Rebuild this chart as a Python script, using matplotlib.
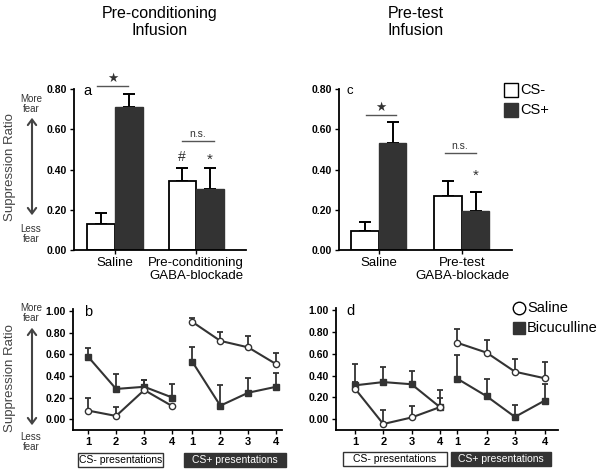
import matplotlib
matplotlib.use("Agg")
import matplotlib.pyplot as plt
from matplotlib.patches import Rectangle, FancyArrowPatch
from matplotlib.lines import Line2D
import numpy as np

plt.rcParams['font.family'] = ['Liberation Sans', 'DejaVu Sans']

# bar panels (a: pre-conditioning, c: pre-test)
groups_a = ['Saline', 'Pre-conditioning\nGABA-blockade']
groups_c = ['Saline', 'Pre-test\nGABA-blockade']
a_csminus = [0.13, 0.345]
a_csminus_err = [0.055, 0.06]
a_csplus = [0.71, 0.305]
a_csplus_err = [0.065, 0.10]
c_csminus = [0.095, 0.27]
c_csminus_err = [0.045, 0.075]
c_csplus = [0.53, 0.195]
c_csplus_err = [0.105, 0.095]

# line panels (b, d): 4 CS- presentations then 4 CS+ presentations
trial_labels = ['1', '2', '3', '4', '1', '2', '3', '4']
b_saline = [0.08, 0.03, 0.27, 0.12, 0.90, 0.725, 0.665, 0.51]
b_saline_err = [0.12, 0.08, 0.09, 0.0, 0.04, 0.085, 0.105, 0.10]
b_bic = [0.58, 0.28, 0.30, 0.20, 0.53, 0.125, 0.245, 0.30]
b_bic_err = [0.08, 0.14, 0.06, 0.13, 0.135, 0.19, 0.135, 0.13]
d_saline = [0.28, -0.045, 0.015, 0.11, 0.70, 0.61, 0.435, 0.375]
d_saline_err = [0.06, 0.13, 0.105, 0.08, 0.13, 0.115, 0.12, 0.15]
d_bic = [0.31, 0.34, 0.32, 0.11, 0.37, 0.21, 0.02, 0.17]
d_bic_err = [0.20, 0.135, 0.125, 0.155, 0.215, 0.16, 0.105, 0.15]

W, H = 602, 475
fig = plt.figure(figsize=(W / 100, H / 100), dpi=100)

DARK = '#333333'


def px_axes(l, t, r, b):
    return fig.add_axes([l / W, 1 - b / H, (r - l) / W, (b - t) / H])


def style(ax, ylim, yticks):
    ax.set_ylim(*ylim)
    ax.set_yticks(yticks)
    ax.set_yticklabels(['%.2f' % v for v in yticks], fontsize=7.5, fontweight='bold')
    for s in ['top', 'right']:
        ax.spines[s].set_visible(False)
    ax.spines['left'].set_linewidth(1.3)
    ax.spines['bottom'].set_linewidth(1.3)
    ax.tick_params(direction='out', length=3, width=1, pad=2)
    ax.patch.set_alpha(0)


def bar_panel(ax, xs, lo, lo_err, hi, hi_err, labels, xlim):
    xs = np.array(xs)
    ax.bar(xs - 0.5, lo, width=1, color='white', edgecolor='black', linewidth=1.3, zorder=2)
    ax.bar(xs + 0.5, hi, width=1, color=DARK, edgecolor=DARK, linewidth=1.0, zorder=2)
    ax.errorbar(xs - 0.5, lo, yerr=[np.zeros(2), lo_err], fmt='none', ecolor='black',
                elinewidth=1.4, capsize=4, capthick=1.4, zorder=1)
    ax.errorbar(xs + 0.5, hi, yerr=[np.zeros(2), hi_err], fmt='none', ecolor='black',
                elinewidth=1.4, capsize=4, capthick=1.4, zorder=1)
    ax.set_xlim(*xlim)
    ax.set_xticks(xs)
    ax.set_xticklabels(labels, fontsize=9.5, linespacing=1.1)
    ax.tick_params(axis='x', length=0, pad=6)
    style(ax, (0, 0.8), [0, 0.2, 0.4, 0.6, 0.8])


# panel a
ax_a = px_axes(74, 89, 246, 250)
bar_panel(ax_a, [0, 2.95], a_csminus, a_csminus_err, a_csplus, a_csplus_err, groups_a, (-1.49, 4.76))
ax_a.plot([-0.65, 0.47], [0.813, 0.813], color='#555555', lw=1, clip_on=False)
ax_a.text(-0.07, 0.85, '★', ha='center', va='center', fontsize=9, color='#333333')
ax_a.plot([2.44, 3.6], [0.54, 0.54], color='#555555', lw=1)
ax_a.text(3.02, 0.575, 'n.s.', ha='center', va='center', fontsize=7.5, color='#333333')
ax_a.text(2.42, 0.46, '#', ha='center', va='center', fontsize=10, color='#333333')
ax_a.text(3.45, 0.45, '*', ha='center', va='center', fontsize=11, color='#333333')
ax_a.text(-1.0, 0.79, 'a', ha='center', va='center', fontsize=10.5)

# panel c
ax_c = px_axes(339, 89, 512, 250)
bar_panel(ax_c, [0, 3.02], c_csminus, c_csminus_err, c_csplus, c_csplus_err, groups_c, (-1.45, 4.84))
ax_c.plot([-0.47, 0.62], [0.67, 0.67], color='#555555', lw=1)
ax_c.text(0.07, 0.705, '★', ha='center', va='center', fontsize=9, color='#333333')
ax_c.plot([2.4, 3.53], [0.48, 0.48], color='#555555', lw=1)
ax_c.text(2.95, 0.515, 'n.s.', ha='center', va='center', fontsize=7.5, color='#333333')
ax_c.text(3.53, 0.37, '*', ha='center', va='center', fontsize=11, color='#333333')
ax_c.text(-1.05, 0.79, 'c', ha='center', va='center', fontsize=9.5)


def line_panel(ax, xs, sal, sal_err, bic, bic_err, xlim):
    xs = np.array(xs)
    for seg in (slice(0, 4), slice(4, 8)):
        x = xs[seg]
        ax.errorbar(x, np.array(bic)[seg], yerr=[np.zeros(4), np.array(bic_err)[seg]], fmt='none',
                    ecolor=DARK, elinewidth=1.3, capsize=2.5, capthick=1.3, zorder=1)
        ax.errorbar(x, np.array(sal)[seg], yerr=[np.zeros(4), np.array(sal_err)[seg]], fmt='none',
                    ecolor=DARK, elinewidth=1.3, capsize=2.5, capthick=1.3, zorder=1)
        ax.plot(x, np.array(bic)[seg], color=DARK, lw=1.5, marker='s', ms=4.5,
                mfc=DARK, mec=DARK, zorder=3)
        ax.plot(x, np.array(sal)[seg], color=DARK, lw=1.5, marker='o', ms=4.5,
                mfc='white', mec=DARK, mew=1.0, zorder=3)
    ax.set_xlim(*xlim)
    ax.set_xticks(xs)
    ax.set_xticklabels(trial_labels, fontsize=8, fontweight='bold')
    style(ax, (-0.1, 1.02), [0, 0.2, 0.4, 0.6, 0.8, 1.0])


# panel b
ax_b = px_axes(73, 309, 282, 430)
line_panel(ax_b, [1, 2, 3, 4, 4.71, 5.7, 6.69, 7.68], b_saline, b_saline_err, b_bic, b_bic_err, (0.47, 7.89))
ax_b.text(1.0, 0.99, 'b', ha='center', va='center', fontsize=10.5)

# panel d
ax_d = px_axes(336, 308, 558, 430)
line_panel(ax_d, [1, 2, 3, 4, 4.62, 5.65, 6.65, 7.7], d_saline, d_saline_err, d_bic, d_bic_err, (0.33, 8.17))
ax_d.text(0.85, 0.99, 'd', ha='center', va='center', fontsize=10.5)

# titles
fig.text(160 / W, 1 - 22 / H, 'Pre-conditioning\nInfusion', ha='center', va='center',
         fontsize=11.5, linespacing=1.2)
fig.text(416 / W, 1 - 22 / H, 'Pre-test\nInfusion', ha='center', va='center',
         fontsize=11.5, linespacing=1.2)

# y labels with fear arrows
for yc, top, bot, more_y, less_y in [(167, 115, 218, 104, 234), (378, 325, 428, 313, 442)]:
    fig.text(10 / W, 1 - yc / H, 'Suppression Ratio', rotation=90, ha='center', va='center',
             fontsize=9.5, color='#444444')
    fig.patches.append(FancyArrowPatch((32 / W, 1 - top / H), (32 / W, 1 - bot / H),
                                       transform=fig.transFigure, arrowstyle='<->,head_length=4,head_width=3',
                                       color='#444444', lw=1.5, mutation_scale=1))
    fig.text(31 / W, 1 - more_y / H, 'More\nfear', ha='center', va='center', fontsize=7,
             linespacing=1.0, color='#333333')
    fig.text(31 / W, 1 - less_y / H, 'Less\nfear', ha='center', va='center', fontsize=7,
             linespacing=1.0, color='#333333')

# legend for bars
fig.patches.append(Rectangle((504 / W, 1 - 97 / H), 14 / W, 14 / H, transform=fig.transFigure,
                             facecolor='white', edgecolor='black', lw=1.0))
fig.patches.append(Rectangle((504 / W, 1 - 117 / H), 14 / W, 14 / H, transform=fig.transFigure,
                             facecolor=DARK, edgecolor=DARK, lw=1.0))
fig.text(520 / W, 1 - 90 / H, 'CS-', ha='left', va='center', fontsize=10.5)
fig.text(520 / W, 1 - 110 / H, 'CS+', ha='left', va='center', fontsize=10.5)

# legend for lines
fig.lines.append(Line2D([519 / W], [1 - 308 / H], transform=fig.transFigure, marker='o', ms=9,
                        mfc='white', mec='black', mew=1.0))
fig.lines.append(Line2D([519 / W], [1 - 328 / H], transform=fig.transFigure, marker='s', ms=9,
                        mfc=DARK, mec=DARK))
fig.text(527 / W, 1 - 308 / H, 'Saline', ha='left', va='center', fontsize=10.5)
fig.text(527 / W, 1 - 328 / H, 'Bicuculline', ha='left', va='center', fontsize=10.5)

# presentation boxes
for l, r, t, b, face, tc, label in [
        (78, 163, 453, 467, 'white', 'black', 'CS- presentations'),
        (184, 286, 453, 467, DARK, 'white', 'CS+ presentations'),
        (343, 447, 452, 466, 'white', 'black', 'CS- presentations'),
        (451, 551, 452, 466, DARK, 'white', 'CS+ presentations')]:
    fig.patches.append(Rectangle((l / W, 1 - b / H), (r - l) / W, (b - t) / H, transform=fig.transFigure,
                                 facecolor=face, edgecolor='#333333', lw=1.0))
    fig.text((l + r) / 2 / W, 1 - (t + b) / 2 / H, label, ha='center', va='center',
             fontsize=7.5, color=tc)

fig.savefig('out.png', dpi=100)
